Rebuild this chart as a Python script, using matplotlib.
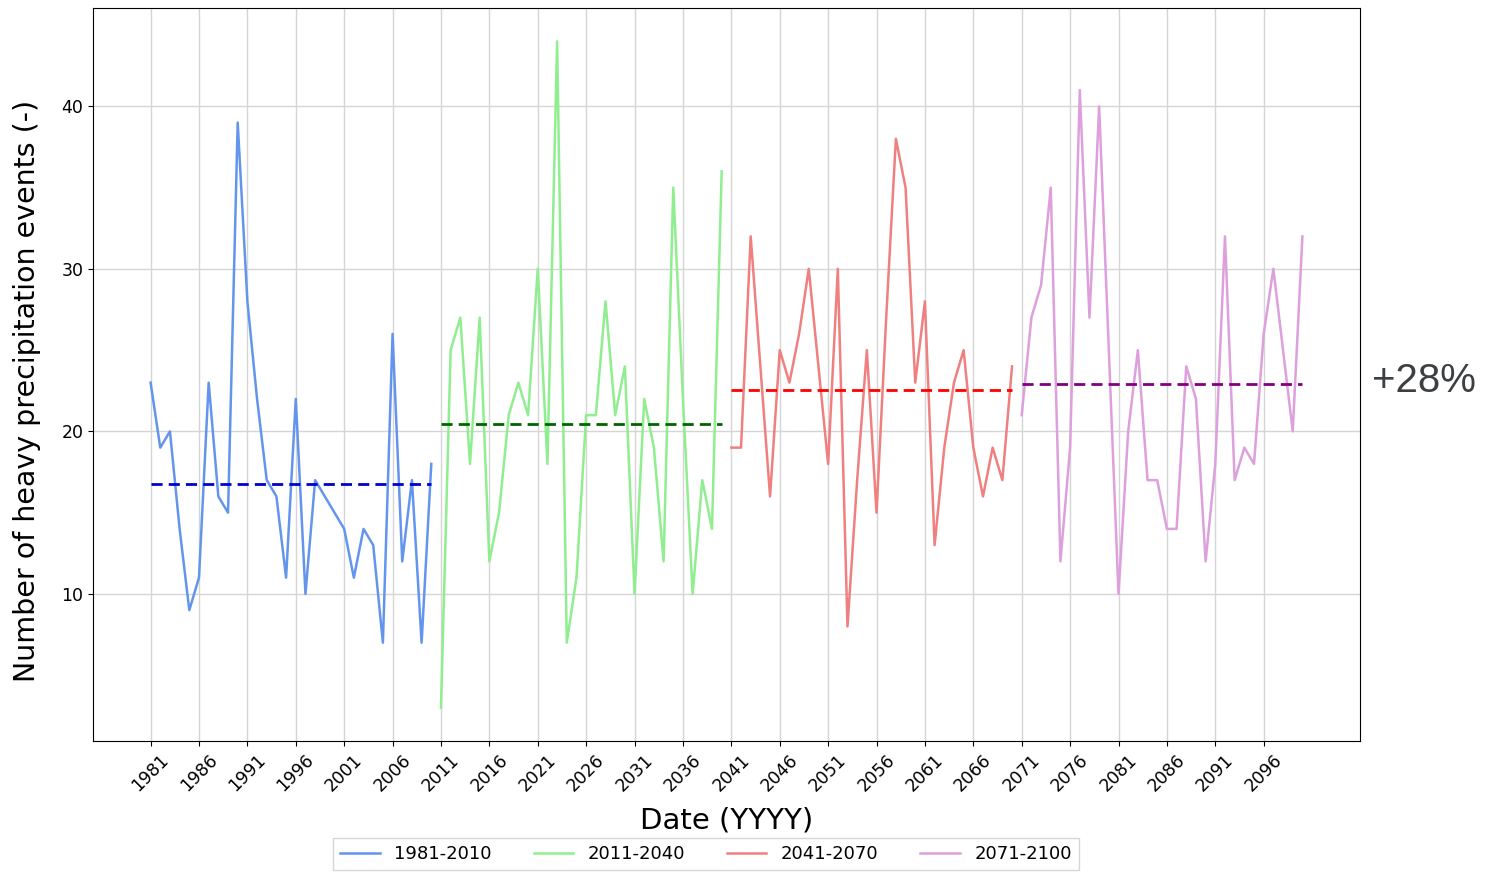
import numpy as np
import matplotlib
matplotlib.use("Agg")
import matplotlib.pyplot as plt

# Annual counts of heavy precipitation events per 30-year period
years_1 = np.arange(1981, 2011)
events_1 = [23, 19, 20, 14, 9, 11, 23, 16, 15, 39,
            28, 22, 17, 16, 11, 22, 10, 17, 16, 15,
            14, 11, 14, 13, 7, 26, 12, 17, 7, 18]

years_2 = np.arange(2011, 2041)
events_2 = [3, 25, 27, 18, 27, 12, 15, 21, 23, 21,
            30, 18, 44, 7, 11, 21, 21, 28, 21, 24,
            10, 22, 19, 12, 35, 22, 10, 17, 14, 36]

years_3 = np.arange(2041, 2071)
events_3 = [19, 19, 32, 24, 16, 25, 23, 26, 30, 24,
            18, 30, 8, 17, 25, 15, 27, 38, 35, 23,
            28, 13, 19, 23, 25, 19, 16, 19, 17, 24]

years_4 = np.arange(2071, 2101)
events_4 = [21, 27, 29, 35, 12, 19, 41, 27, 40, 25,
            10, 20, 25, 17, 17, 14, 14, 24, 22, 12,
            18, 32, 17, 19, 18, 26, 30, 25, 20, 32]

period_labels = ["1981-2010", "2011-2040", "2041-2070", "2071-2100"]
line_colors = ["cornflowerblue", "lightgreen", "lightcoral", "plum"]
mean_colors = ["mediumblue", "darkgreen", "red", "purple"]
change_text = "+28%"

tick_years = np.arange(1981, 2100, 5)

fig = plt.figure(figsize=(14.88, 8.73), dpi=100)
ax = fig.add_axes([93 / 1488, 1 - 741 / 873, 1267 / 1488, 733 / 873])

series = [(years_1, events_1), (years_2, events_2),
          (years_3, events_3), (years_4, events_4)]

for (yrs, vals), lab, lc, mc in zip(series, period_labels, line_colors, mean_colors):
    ax.plot(yrs, vals, color=lc, lw=1.8, label=lab)
    m = np.mean(vals)
    ax.plot([yrs[0], yrs[-1]], [m, m], color=mc, lw=2, ls=(0, (4, 2.2)))

ax.set_xticks(tick_years)
ax.set_xticklabels([str(t) for t in tick_years], rotation=45, fontsize=12.5)
ax.tick_params(axis="y", labelsize=12.5)
ax.set_yticks([10, 20, 30, 40])
ax.grid(True, color="#d5d5d5", lw=1)
ax.set_axisbelow(True)

ax.set_xlabel("Date (YYYY)", fontsize=21)
ax.xaxis.set_label_coords(0.5, -0.089)
ax.set_ylabel("Number of heavy precipitation events (-)", fontsize=20.5)
ax.yaxis.set_label_coords(-0.041, 0.478)

handles = ax.get_lines()[0::2]
fig.legend(handles, period_labels, loc="upper center", ncol=4,
           bbox_to_anchor=(706 / 1488, 1 - 838 / 873), fontsize=13,
           frameon=True, handlelength=2.2, columnspacing=2.3,
           borderaxespad=0, fancybox=False, edgecolor="#cccccc")

fig.text(1372 / 1488, 1 - 381 / 873, change_text, fontsize=29,
         family="Liberation Sans", color="#3c4043", ha="left", va="center")

fig.savefig("out.png", dpi=100)
